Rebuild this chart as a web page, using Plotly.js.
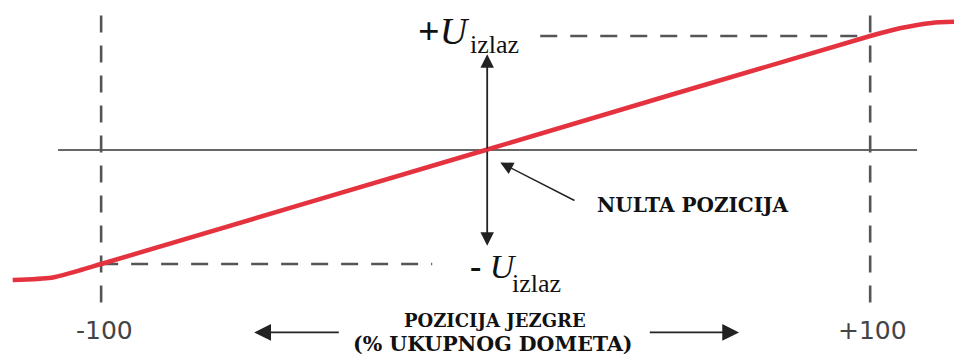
<!DOCTYPE html>
<html>
<head>
<meta charset="utf-8">
<script src="https://cdn.plot.ly/plotly-3.0.1.min.js"></script>
<style>html,body{margin:0;padding:0;background:#fff;}#chart{width:954px;height:356px;}</style>
</head>
<body>
<div id="chart"></div>
<script>
// Core position (% of full range) and output voltage (relative to U_izlaz)
const corePosition = [-123, -113, -105, -100, 0, 100, 108, 116, 122];
const outputVoltage = [-1.14, -1.12, -1.05, -1.0, 0, 1.0, 1.07, 1.115, 1.125];
const tickValues = [-100, 100];
const tickLabels = ['-100', '+100'];
const outMax = 1, outMin = -1;

const serif = 'Liberation Serif, Times New Roman, serif';
const boldSerif = 'DejaVu Serif, serif';
const sans = 'DejaVu Sans, sans-serif';

const curve = {
  x: corePosition, y: outputVoltage, type: 'scatter', mode: 'lines',
  line: {color: '#e5323f', width: 4.5, shape: 'spline', smoothing: 0.6},
  hoverinfo: 'skip', showlegend: false
};

const dashStyle = {color: '#555', width: 2.6, dash: '17px,13px'};
const shapes = [
  // horizontal zero axis
  {type: 'line', xref: 'x', yref: 'y', x0: -111.2, x1: 112.2, y0: 0, y1: 0, line: {color: '#333', width: 1.6}, layer: 'below'},
  // vertical dashed at -100 / +100
  {type: 'line', xref: 'x', yref: 'y', x0: tickValues[0], x1: tickValues[0], y0: 1.18, y1: -1.36, line: dashStyle, layer: 'below'},
  {type: 'line', xref: 'x', yref: 'y', x0: tickValues[1], x1: tickValues[1], y0: 1.18, y1: -1.36, line: dashStyle, layer: 'below'},
  // horizontal dashed to +U / -U
  {type: 'line', xref: 'x', yref: 'y', x0: 14.2, x1: tickValues[1], y0: outMax, y1: outMax, line: dashStyle, layer: 'below'},
  {type: 'line', xref: 'x', yref: 'y', x0: tickValues[0], x1: -13.9, y0: outMin, y1: outMin, line: dashStyle, layer: 'below'}
];

function arrow(xh, yh, xt, yt, opts) {
  return Object.assign({
    x: xh, y: yh, ax: xt, ay: yt, xref: 'x', yref: 'y', axref: 'x', ayref: 'y',
    text: '', showarrow: true, arrowhead: 2, arrowsize: 1.3, arrowwidth: 1.8,
    arrowcolor: '#222', standoff: 0, startstandoff: 0
  }, opts || {});
}

const annotations = [
  // vertical double arrow
  arrow(0.4, 0.84, 0.4, 0, {arrowsize: 1.5}),
  arrow(0.4, -0.84, 0.4, 0, {arrowsize: 1.5}),
  // NULTA POZICIJA pointer
  arrow(3.8, -0.11, 23.5, -0.45, {arrowwidth: 1.5, arrowsize: 1.7}),
  {x: 54, y: -0.48, xref: 'x', yref: 'y', text: '<b>NULTA POZICIJA</b>', showarrow: false,
   font: {family: boldSerif, size: 20, color: '#111'}},
  // +U izlaz
  {x: -3.5, y: 1.04, xref: 'x', yref: 'y', xanchor: 'right', text: '<b>+</b><i>U</i>', showarrow: false,
   font: {family: serif, size: 38, color: '#111'}},
  {x: -4.6, y: 0.93, xref: 'x', yref: 'y', xanchor: 'left', text: 'izlaz', showarrow: false,
   font: {family: serif, size: 26, color: '#111'}},
  // -U izlaz
  {x: 8.6, y: -1.02, xref: 'x', yref: 'y', xanchor: 'right', text: '<b>-</b> <i>U</i>', showarrow: false,
   font: {family: serif, size: 34, color: '#111'}},
  {x: 6.3, y: -1.17, xref: 'x', yref: 'y', xanchor: 'left', text: 'izlaz', showarrow: false,
   font: {family: serif, size: 26, color: '#111'}},
  // tick labels
  {x: tickValues[0] + 1, y: -1.58, xref: 'x', yref: 'y', text: tickLabels[0], showarrow: false,
   font: {family: sans, size: 25, color: '#444'}},
  {x: tickValues[1] + 0.5, y: -1.58, xref: 'x', yref: 'y', text: tickLabels[1], showarrow: false,
   font: {family: sans, size: 25, color: '#444'}},
  // axis title
  {x: 2.5, y: -1.495, xref: 'x', yref: 'y', text: '<b>POZICIJA JEZGRE</b>', showarrow: false,
   font: {family: boldSerif, size: 18, color: '#111'}},
  {x: 2, y: -1.70, xref: 'x', yref: 'y', text: '<b>(% UKUPNOG DOMETA)</b>', showarrow: false,
   font: {family: boldSerif, size: 20.5, color: '#111'}},
  // direction arrows
  arrow(-60.2, -1.6, -37.8, -1.6, {arrowwidth: 1.6, arrowsize: 2.1}),
  arrow(65.9, -1.6, 42.3, -1.6, {arrowwidth: 1.6, arrowsize: 2.1})
];

const layout = {
  width: 954, height: 356,
  margin: {l: 0, r: 0, t: 0, b: 0},
  paper_bgcolor: '#fff', plot_bgcolor: '#fff',
  xaxis: {range: [-126.3, 121.8], visible: false, showgrid: false, zeroline: false, fixedrange: true},
  yaxis: {range: [-1.807, 1.316], visible: false, showgrid: false, zeroline: false, fixedrange: true},
  shapes: shapes,
  annotations: annotations,
  showlegend: false
};

Plotly.newPlot('chart', [curve], layout, {staticPlot: true, displayModeBar: false});
</script>
</body>
</html>
